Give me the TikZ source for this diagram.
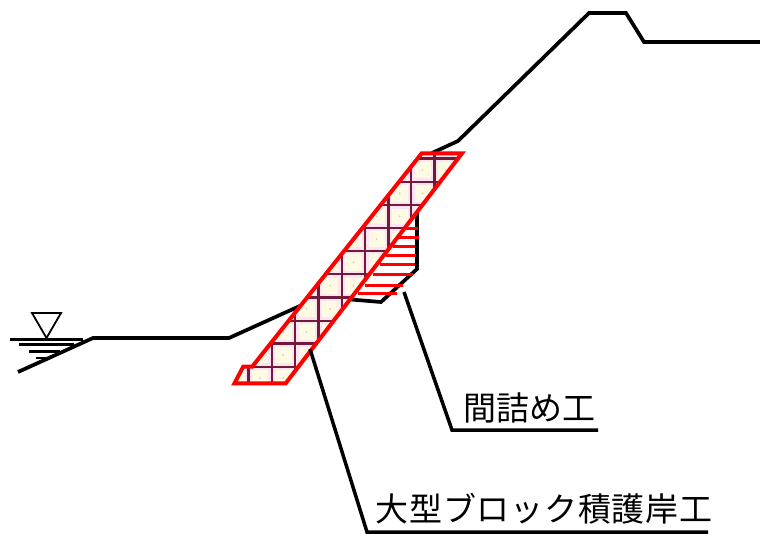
\documentclass[tikz,border=0pt]{standalone}
\usepackage{fontspec}
\newfontfamily\jpfonta{Noto Sans CJK JP}
\newfontfamily\jpfontb[LetterSpace=2.2]{Noto Sans CJK JP}
\definecolor{gridcol}{HTML}{701C38}
\definecolor{halo}{HTML}{FFE3F2}
\definecolor{cellfill}{HTML}{FFFAE4}
\definecolor{speck}{HTML}{DDD0CC}
\definecolor{redline}{HTML}{FF0000}
\tikzset{
  ground/.style={draw=black,line width=3.7pt,line join=miter,line cap=butt},
  leader/.style={draw=black,line width=3.5pt,line join=miter},
  block/.style={draw=redline,line width=4pt,line join=miter},
  hatchline/.style={draw=redline,line width=3.2pt},
  gridline/.style={draw=gridcol,line width=2.4pt},
  haloline/.style={draw=halo,line width=7pt},
  water/.style={draw=black,line width=2.8pt},
  label/.style={inner sep=0pt,anchor=base west,text=black}
}
\begin{document}
\begin{tikzpicture}[x=1pt,y=-1pt]
\useasboundingbox (0,0) rectangle (760,536);
\fill[white] (0,0) rectangle (760,536);
% ground
\draw[ground] (18,372) -- (93,338) -- (229,338) -- (302,305);
\draw[ground] (345,299) -- (381,302) -- (417,269) -- (417,208);
\draw[ground] (432,153) -- (458,141) -- (589,13) -- (626,13) -- (644,42) -- (760,42);
% water level
\draw[water,fill=white,line width=1.8pt] (32,313) -- (61,313) -- (46.5,338) -- cycle;
\draw[water] (10,339.5) -- (83,339.5);
\draw[water] (19,344.5) -- (74,344.5);
\draw[water] (29,351.5) -- (60,351.5);
\draw[water] (36,358) -- (50,358);
% hatch
\foreach \ya/\xa/\xb in {228.3/406/417.7,237.3/399/419,246.3/393/415,255.3/386/415.7,264.3/380/415,274.3/373/412.7,285.3/365/403.3,293.3/357.7/396.7}
  \draw[hatchline] (\xa,\ya) -- (\xb,\ya);
% blocks
\begin{scope}
\clip (421.7,153.3) -- (462,153.3) -- (285.7,383.3) -- (234.5,383.3) -- (243.3,366.5) -- (252.3,366.5) -- cycle;
\fill[cellfill] (220,140) rectangle (470,390);
\foreach \yy in {158.3,181.7,205,227.7,250.7,274,297.3,320.7,343.3,366.7}
  \draw[haloline] (225,\yy) -- (470,\yy);
\foreach \xx in {248.3,271.7,295,318.3,341.7,365,388.3,411,434.3}
  \draw[haloline] (\xx,150) -- (\xx,390);
\foreach \yy in {170,193.3,216.4,239.2,262.3,285.6,309,332,355,378}
  \foreach \xx in {236.6,260,283.3,306.6,330,353.3,376.6,399.6,422.6,446}
    \fill[speck] (\xx,\yy) circle (1.1pt);
\foreach \yy in {158.3,181.7,205,227.7,250.7,274,297.3,320.7,343.3,366.7}
  \draw[gridline] (225,\yy) -- (470,\yy);
\foreach \xx in {248.3,271.7,295,318.3,341.7,365,388.3,411,434.3}
  \draw[gridline] (\xx,150) -- (\xx,390);
\end{scope}
\draw[block] (421.7,153.3) -- (462,153.3) -- (285.7,383.3) -- (234.5,383.3) -- (243.3,366.5) -- (252.3,366.5) -- cycle;
% labels and leaders
\node[label,font=\jpfonta\fontsize{33}{35}\selectfont] (fill) at (463.5,420) {間詰め工};
\node[label,font=\jpfontb\fontsize{33}{35}\selectfont] (revet) at (375.5,521) {大型ブロック積護岸工};
\coordinate (fillfoot) at (404,292);
\coordinate (fillbend) at (452,430);
\coordinate (fillend) at (598,430);
\coordinate (revfoot) at (310,349);
\coordinate (revbend) at (367,532);
\coordinate (revend) at (708,532);
\draw[leader] (fillfoot) -- (fillbend) -- (fillend);
\draw[leader] (revfoot) -- (revbend) -- (revend);
\end{tikzpicture}
\end{document}
